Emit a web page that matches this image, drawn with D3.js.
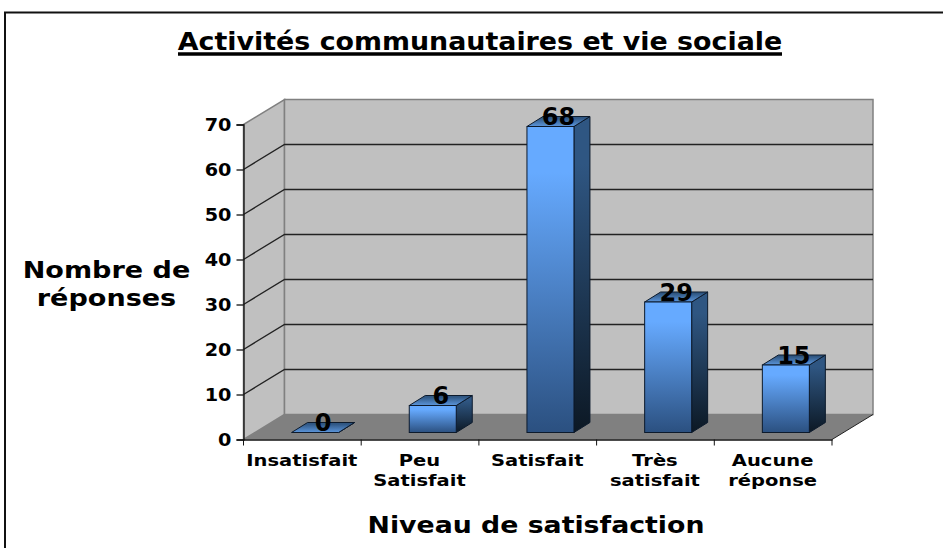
<!DOCTYPE html>
<html>
<head>
<meta charset="utf-8">
<script src="https://cdnjs.cloudflare.com/ajax/libs/d3/7.8.5/d3.min.js"></script>
<style>
  html, body { margin: 0; padding: 0; background: #fff; overflow: hidden; }
  svg { display: block; }
  text { font-family: "DejaVu Sans", sans-serif; font-weight: bold; fill: #000; }
</style>
</head>
<body>
<div id="chart"></div>
<script>
var title = "Activités communautaires et vie sociale";
var xTitle = "Niveau de satisfaction";
var yTitle = ["Nombre de", "réponses"];
var categories = ["Insatisfait", "Peu|Satisfait", "Satisfait", "Très|satisfait", "Aucune|réponse"];
var values = [0, 6, 68, 29, 15];
var yTicks = [0, 10, 20, 30, 40, 50, 60, 70];

var width = 943, height = 548;
var depth = { x: 41, y: -25 };      // wall depth
var barDepth = { x: 16, y: -10 };   // bar depth
var barShift = { x: 12.7, y: -7 };  // bars sit a little behind the front edge
var barWidth = 47;

var svg = d3.select("#chart").append("svg")
  .attr("width", width)
  .attr("height", height);

var x = d3.scaleBand().domain(categories).range([243.5, 832]);
var y = d3.scaleLinear().domain([0, 70]).range([439.5, 124.5]);

var defs = svg.append("defs");
function gradient(id, top, bottom) {
  var g = defs.append("linearGradient").attr("id", id)
    .attr("x1", 0).attr("y1", 0).attr("x2", 0).attr("y2", 1);
  g.append("stop").attr("offset", "0%").attr("stop-color", top);
  g.append("stop").attr("offset", "15%").attr("stop-color", top);
  g.append("stop").attr("offset", "100%").attr("stop-color", bottom);
}
gradient("front", "#66aaff", "#2b5080");
gradient("side", "#2f5682", "#0c1824");
gradient("topFace", "#2f5682", "#5c96dc");

// the original text is wider than the font, so stretch it
function stretch(sel, factor) {
  sel.each(function () {
    d3.select(this)
      .attr("textLength", this.getComputedTextLength() * factor)
      .attr("lengthAdjust", "spacingAndGlyphs");
  });
}

// frame
svg.append("path")
  .attr("d", "M5,548V12.5H943")
  .attr("fill", "none")
  .attr("stroke", "#111")
  .attr("stroke-width", 2);

var x0 = x.range()[0], x1 = x.range()[1], y0 = y(0), yTop = y(70);
var walls = svg.append("g");

function poly(pts) {
  return "M" + pts.map(function (p) { return p[0] + "," + p[1]; }).join("L") + "Z";
}

// floor, side wall, back wall
walls.append("path")
  .attr("d", poly([[x0, y0], [x0 + depth.x, y0 + depth.y], [x1 + depth.x, y0 + depth.y], [x1, y0]]))
  .attr("fill", "#808080");
walls.append("path")
  .attr("d", poly([[x0, y0], [x0 + depth.x, y0 + depth.y], [x0 + depth.x, yTop + depth.y], [x0, yTop]]))
  .attr("fill", "#c0c0c0")
  .attr("stroke", "#808080")
  .attr("stroke-width", 1.5);
walls.append("path")
  .attr("d", poly([[x0 + depth.x, y0 + depth.y], [x0 + depth.x, yTop + depth.y], [x1 + depth.x, yTop + depth.y], [x1 + depth.x, y0 + depth.y]]))
  .attr("fill", "#c0c0c0")
  .attr("stroke", "#808080")
  .attr("stroke-width", 1.5);

// gridlines
walls.selectAll("path.grid")
  .data(yTicks.filter(function (d) { return d > 0 && d < 70; }))
  .enter().append("path")
  .attr("class", "grid")
  .attr("d", function (d) {
    return "M" + x0 + "," + y(d) + "L" + (x0 + depth.x) + "," + (y(d) + depth.y) + "H" + (x1 + depth.x);
  })
  .attr("fill", "none")
  .attr("stroke", "#222")
  .attr("stroke-width", 1.3);

// floor edge on the right
walls.append("path")
  .attr("d", "M" + x1 + "," + y0 + "L" + (x1 + depth.x) + "," + (y0 + depth.y))
  .attr("stroke", "#222")
  .attr("fill", "none");

// bars
var bars = svg.selectAll("g.bar")
  .data(values)
  .enter().append("g")
  .attr("class", "bar")
  .attr("transform", function (d, i) {
    var bx = x(categories[i]) + x.bandwidth() / 2 - barWidth / 2 + barShift.x;
    return "translate(" + bx + "," + (y(d) + barShift.y) + ")";
  });

bars.append("path")
  .attr("d", function (d) {
    var h = y(0) - y(d);
    return poly([[barWidth, 0], [barWidth + barDepth.x, barDepth.y], [barWidth + barDepth.x, h + barDepth.y], [barWidth, h]]);
  })
  .attr("fill", "url(#side)")
  .attr("stroke", "#0c1a2c")
  .attr("stroke-width", 1);

bars.append("path")
  .attr("d", poly([[0, 0], [barDepth.x, barDepth.y], [barWidth + barDepth.x, barDepth.y], [barWidth, 0]]))
  .attr("fill", "url(#topFace)")
  .attr("stroke", "#0c1a2c")
  .attr("stroke-width", 1);

bars.append("rect")
  .attr("width", barWidth)
  .attr("height", function (d) { return y(0) - y(d); })
  .attr("fill", "url(#front)")
  .attr("stroke", "#0c1a2c")
  .attr("stroke-width", 1);

bars.append("text")
  .attr("x", barWidth / 2 + 8)
  .attr("y", -1.5)
  .attr("text-anchor", "middle")
  .style("font-size", "24px")
  .text(function (d) { return d; });

// axes
var yAxis = svg.append("g")
  .attr("transform", "translate(" + x0 + ",0)")
  .call(d3.axisLeft(y).tickValues(yTicks).tickSize(7).tickPadding(5));

var xAxis = svg.append("g")
  .attr("transform", "translate(0," + y0 + ")")
  .call(d3.axisBottom(x).tickValues([]).tickSize(0));

xAxis.selectAll("line.sep")
  .data(x.domain().map(function (c) { return x(c); }).concat([x1]))
  .enter().append("line")
  .attr("class", "sep")
  .attr("x1", function (d) { return d; })
  .attr("x2", function (d) { return d; })
  .attr("y2", 6)
  .attr("stroke", "#111");

[yAxis, xAxis].forEach(function (a) {
  a.selectAll(".domain, .tick line").attr("stroke", "#111").attr("stroke-width", 1.3);
});

yAxis.selectAll("text")
  .style("font-family", '"DejaVu Sans", sans-serif')
  .style("font-size", "17.5px")
  .style("font-weight", "bold")
  .attr("fill", "#000")
  .call(stretch, 1.1);

// category labels, one text per line
var catLines = [];
categories.forEach(function (c) {
  c.split("|").forEach(function (line, i) {
    catLines.push({ c: c, line: line, row: i });
  });
});

svg.selectAll("text.cat")
  .data(catLines)
  .enter().append("text")
  .attr("class", "cat")
  .attr("x", function (d) { return x(d.c) + x.bandwidth() / 2 - 0.5; })
  .attr("y", function (d) { return 466 + d.row * 20; })
  .attr("text-anchor", "middle")
  .style("font-size", "15px")
  .text(function (d) { return d.line; })
  .call(stretch, 1.3);

// titles
svg.append("text")
  .attr("x", 480)
  .attr("y", 50)
  .attr("text-anchor", "middle")
  .style("font-size", "24px")
  .text(title)
  .call(stretch, 1.119);

svg.append("line")
  .attr("x1", 178)
  .attr("x2", 782)
  .attr("y1", 54)
  .attr("y2", 54)
  .attr("stroke", "#000")
  .attr("stroke-width", 3.5);

svg.append("text")
  .attr("x", 536)
  .attr("y", 533)
  .attr("text-anchor", "middle")
  .style("font-size", "23px")
  .text(xTitle)
  .call(stretch, 1.163);

svg.selectAll("text.ytitle")
  .data(yTitle)
  .enter().append("text")
  .attr("class", "ytitle")
  .attr("x", 106.5)
  .attr("y", function (d, i) { return 278 + i * 28; })
  .attr("text-anchor", "middle")
  .style("font-size", "23px")
  .text(function (d) { return d; })
  .call(stretch, 1.176);
</script>
</body>
</html>
